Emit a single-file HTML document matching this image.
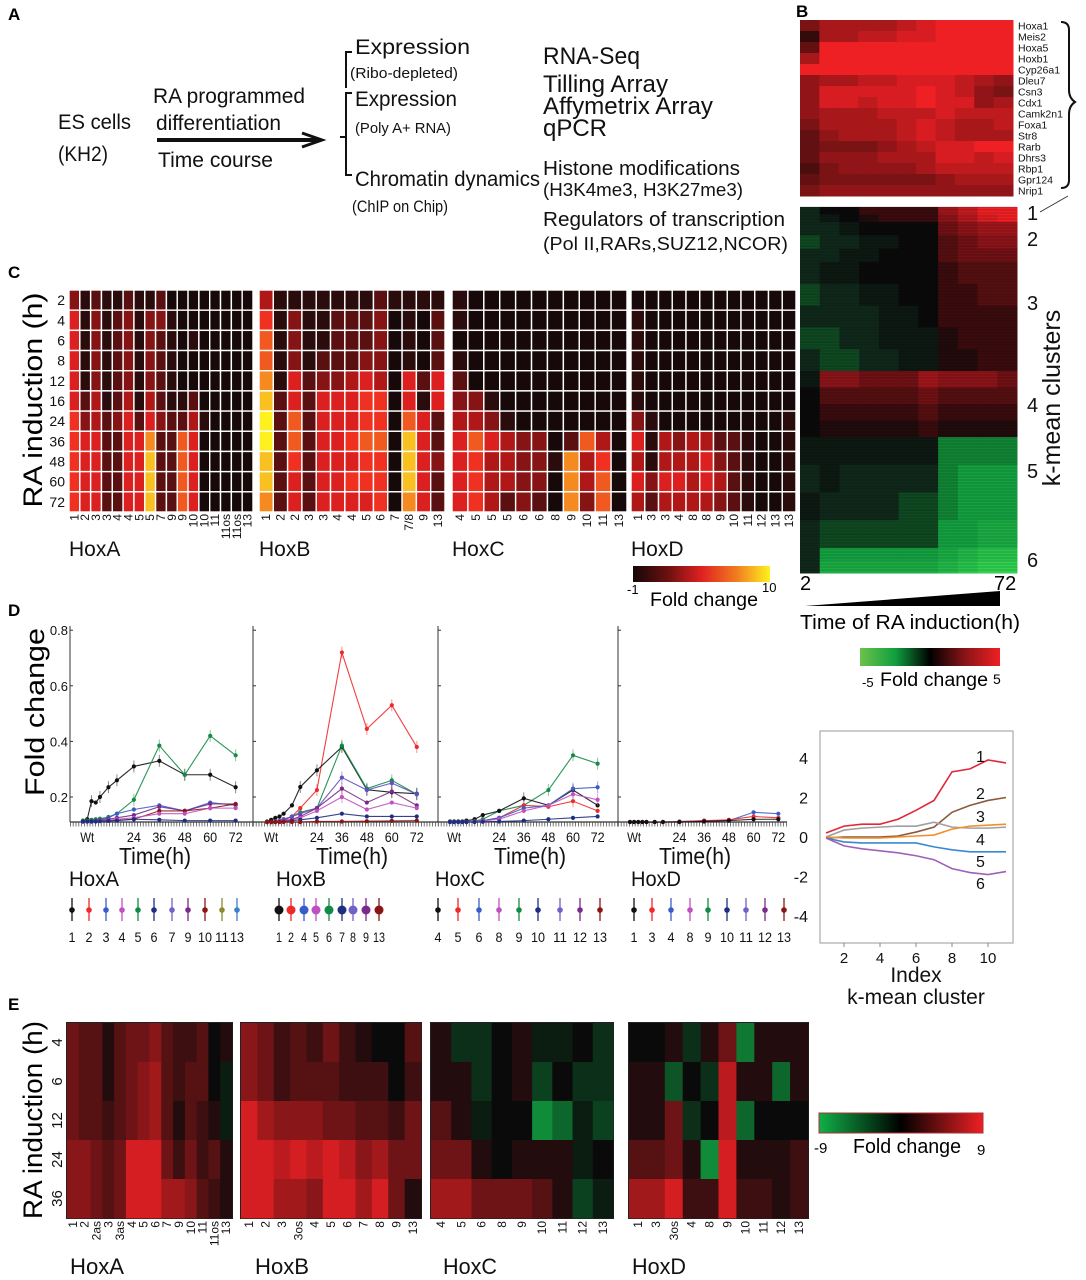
<!DOCTYPE html>
<html><head><meta charset="utf-8"><title>Hox RA induction figure</title>
<style>
html,body{margin:0;padding:0;background:#fff;}
svg{display:block;font-family:"Liberation Sans Narrow","Liberation Sans",sans-serif;}
.w{font-family:"Liberation Sans",sans-serif;}
</style></head>
<body>
<svg id="fig" width="1086" height="1280" viewBox="0 0 1086 1280" xmlns="http://www.w3.org/2000/svg">
<defs>
<linearGradient id="gFire" x1="0" x2="1" y1="0" y2="0">
<stop offset="0" stop-color="#140808"/><stop offset="0.25" stop-color="#6a1010"/><stop offset="0.5" stop-color="#e02020"/><stop offset="0.75" stop-color="#f07a20"/><stop offset="1" stop-color="#fff020"/></linearGradient>
<linearGradient id="gGR" x1="0" x2="1" y1="0" y2="0">
<stop offset="0" stop-color="#6cc24a"/><stop offset="0.25" stop-color="#10a040"/><stop offset="0.5" stop-color="#000"/><stop offset="0.75" stop-color="#8a1418"/><stop offset="1" stop-color="#ee2024"/></linearGradient>
<linearGradient id="gGR9" x1="0" x2="1" y1="0" y2="0">
<stop offset="0" stop-color="#10b048"/><stop offset="0.5" stop-color="#000"/><stop offset="1" stop-color="#ee2024"/></linearGradient>
</defs>
<rect x="0" y="0" width="1086" height="1280" fill="#fff"/>

<g class="w" font-weight="bold" font-size="17">
<text x="8" y="20">A</text>
<text x="796" y="17">B</text>
<text x="8" y="278">C</text>
<text x="8" y="616">D</text>
<text x="8" y="1010">E</text>
</g>

<!-- Panel A -->
<g fill="#111">
<text x="58" y="129" font-size="21" textLength="73" lengthAdjust="spacingAndGlyphs">ES cells</text>
<text x="58" y="161" font-size="21" textLength="50" lengthAdjust="spacingAndGlyphs">(KH2)</text>
<text x="153" y="103" font-size="21" textLength="152" lengthAdjust="spacingAndGlyphs">RA programmed</text>
<text x="156" y="130" font-size="21" textLength="125" lengthAdjust="spacingAndGlyphs">differentiation</text>
<text x="158" y="167" font-size="21" textLength="115" lengthAdjust="spacingAndGlyphs">Time course</text>
<line x1="157" y1="140" x2="318" y2="140" stroke="#111" stroke-width="4"/>
<polyline points="302,133 322,140 302,147" fill="none" stroke="#111" stroke-width="3"/>
<path d="M352 52 h-6 v36 M352 93 h-6 v82 h6 M346 137 h-6" fill="none" stroke="#111" stroke-width="2"/>
<text x="355" y="54" font-size="21" textLength="115" lengthAdjust="spacingAndGlyphs">Expression</text>
<text x="350" y="78" font-size="15" textLength="108" lengthAdjust="spacingAndGlyphs">(Ribo-depleted)</text>
<text x="355" y="106" font-size="21" textLength="102" lengthAdjust="spacingAndGlyphs">Expression</text>
<text x="355" y="133" font-size="15" textLength="96" lengthAdjust="spacingAndGlyphs">(Poly A+ RNA)</text>
<text x="355" y="186" font-size="21" textLength="185" lengthAdjust="spacingAndGlyphs">Chromatin dynamics</text>
<text x="352" y="212" font-size="17" textLength="96" lengthAdjust="spacingAndGlyphs">(ChIP on Chip)</text>
<text x="543" y="64" font-size="24" textLength="97" lengthAdjust="spacingAndGlyphs">RNA-Seq</text>
<text x="543" y="92" font-size="24" textLength="125" lengthAdjust="spacingAndGlyphs">Tilling Array</text>
<text x="543" y="114" font-size="24" textLength="170" lengthAdjust="spacingAndGlyphs">Affymetrix Array</text>
<text x="543" y="136" font-size="24" textLength="64" lengthAdjust="spacingAndGlyphs">qPCR</text>
<text x="543" y="175" font-size="20" textLength="197" lengthAdjust="spacingAndGlyphs">Histone modifications</text>
<text x="543" y="196" font-size="18" textLength="200" lengthAdjust="spacingAndGlyphs">(H3K4me3, H3K27me3)</text>
<text x="543" y="226" font-size="20" textLength="242" lengthAdjust="spacingAndGlyphs">Regulators of transcription</text>
<text x="543" y="250" font-size="18" textLength="245" lengthAdjust="spacingAndGlyphs">(Pol II,RARs,SUZ12,NCOR)</text>
</g>

<!-- Panel B static -->
<g>
<path d="M1061 22 q8 0 8 8 v60 q0 8 6 12 q-6 4 -6 12 v66 q0 8 -8 8" fill="none" stroke="#111" stroke-width="2"/>
<line x1="1040" y1="212" x2="1068" y2="196" stroke="#333" stroke-width="1"/>
<g font-size="20" class="w" fill="#111">
<text x="1027" y="220">1</text>
<text x="1027" y="246">2</text>
<text x="1027" y="310">3</text>
<text x="1027" y="412">4</text>
<text x="1027" y="478">5</text>
<text x="1027" y="567">6</text>
</g>
<text transform="translate(1060,398) rotate(-90)" text-anchor="middle" font-size="25" class="w" fill="#111">k-mean clusters</text>
<text x="800" y="590" font-size="20" class="w">2</text>
<text x="994" y="590" font-size="20" class="w">72</text>
<polygon points="805,606 1000,591 1000,606" fill="#000"/>
<text x="800" y="629" font-size="20" class="w" textLength="220" lengthAdjust="spacingAndGlyphs">Time of RA induction(h)</text>
<rect x="860" y="648" width="140" height="18" fill="url(#gGR)"/>
<text x="862" y="687" font-size="13" class="w">-5</text>
<text x="880" y="686" font-size="19" class="w" textLength="108" lengthAdjust="spacingAndGlyphs">Fold change</text>
<text x="993" y="684" font-size="14" class="w">5</text>
</g>
<g id="bTop"></g>
<g id="bGenes" font-size="10.5" class="w"></g>
<g id="bLow"></g>

<!-- Panel C static -->
<g>
<text transform="translate(42,400) rotate(-90)" text-anchor="middle" font-size="27" class="w" textLength="215" lengthAdjust="spacingAndGlyphs">RA induction (h)</text>
<rect x="633" y="566" width="137" height="16" fill="url(#gFire)"/>
<text x="627" y="594" font-size="13">-1</text>
<text x="762" y="592" font-size="13">10</text>
<text x="650" y="606" font-size="19" textLength="108" lengthAdjust="spacingAndGlyphs">Fold change</text>
</g>
<g id="cHeat"></g>

<!-- Panel D -->
<text transform="translate(44,712) rotate(-90)" text-anchor="middle" font-size="27" class="w" textLength="168" lengthAdjust="spacingAndGlyphs">Fold change</text>
<g id="dPlots"></g>
<g id="kmean"></g>

<!-- Panel E -->
<text transform="translate(42,1120) rotate(-90)" text-anchor="middle" font-size="27" class="w" textLength="198" lengthAdjust="spacingAndGlyphs">RA induction (h)</text>
<g id="eHeat"></g>
<g>
<rect x="819" y="1113" width="164" height="20" fill="url(#gGR9)" stroke="#a33" stroke-width="1"/>
<text x="814" y="1153" font-size="15">-9</text>
<text x="853" y="1153" font-size="20" textLength="108" lengthAdjust="spacingAndGlyphs">Fold change</text>
<text x="977" y="1155" font-size="15">9</text>
</g>
</svg>

<script>
// ---------------- DATA ----------------
const bGeneNames = ["Hoxa1","Meis2","Hoxa5","Hoxb1","Cyp26a1","Dleu7","Csn3","Cdx1","Camk2n1","Foxa1","Str8","Rarb","Dhrs3","Rbp1","Gpr124","Nrip1"];
const bGeneValues = [
[4,6,6,6,6,7,8,9,9,9,9],
[1,6,6,7,7,8,8,9,9,9,9],
[3,9,9,9,9,9,9,9,9,9,9],
[6,9,9,9,9,9,9,9,9,9,9],
[9,9,9,9,9,9,9,9,9,9,9],
[5,6,6,7,7,8,8,8,7,6,5],
[5,8,8,8,8,8,9,8,7,5,4],
[5,8,8,7,8,8,9,8,8,5,6],
[5,6,6,6,7,7,7,8,7,7,7],
[4,6,6,6,6,7,8,7,6,6,7],
[3,5,6,6,6,7,8,7,6,6,6],
[3,4,4,4,5,6,7,8,8,9,9],
[3,5,5,5,6,6,6,8,8,7,8],
[2,4,5,5,5,5,6,7,7,7,7],
[3,4,4,4,4,4,4,5,6,6,6],
[4,5,5,5,5,5,5,5,5,5,5]];
const kmGeneCounts = [150,400,1090,660,1110,250];
const kmProfiles = [
 [[-1,0,0,1,1,1,1,3,4,5,5],[-1,-0.5,0,0.5,1,1,1,2.5,3.5,4.5,5]],
 [[-1,-1,-0.5,0,0,0,0,2,2.5,3,3],[-1.5,-1,-1,-0.5,-0.5,0,0,1.5,2,2.5,2.5],[-1,-1,-0.5,-0.5,0,0,0,1.5,2,2,2]],
 [[-1,-0.5,-0.5,0,0,0,0,1,1.5,1.5,1.5],[-1.5,-1,-1,-0.5,-0.5,0,0,1,1,1.5,1.5],[-1,-1,-1,-1,-0.5,-0.5,0,1,1,1,1],[-1.5,-1.5,-1,-1,-0.5,-0.5,-0.5,0.5,1,1,1],[-1,-1.5,-1.5,-1,-1,-0.5,-0.5,0.5,0.5,1,1]],
 [[-0.5,2.5,2.5,2,2,2,3,2.5,2.5,2.5,2],[0,1.5,1.5,1.5,1.5,1.5,2,1.5,1.5,1.5,1.5],[0,1,1,1,1,1,1.5,1,1,1,1],[0,0.5,0.5,0.5,0.5,0.5,1,0.5,0.5,0.5,0.5]],
 [[-0.5,-0.5,-0.5,-0.5,-0.5,-0.5,-0.5,-2.5,-2.5,-2.5,-2.5],[-1,-0.5,-1,-1,-1,-1,-1,-2.5,-3,-3,-3],[-0.5,-1,-1,-1,-1,-1.5,-1.5,-2.5,-3,-3,-3],[-1,-1.5,-1.5,-1.5,-1.5,-1.5,-1.5,-3,-3,-3.5,-3.5]],
 [[-1,-3,-3,-3,-3,-3,-3,-3.5,-4,-4.5,-4.5],[-1,-3.5,-3.5,-3.5,-3.5,-3.5,-3.5,-4,-4.5,-5,-5]]];

const cRowLabels = ["2","4","6","8","12","16","24","36","48","60","72"];
const cHoxACols = ["1","2","3","3","4","4","5","5","7","9","9","10","10","11","11os","11os","13"];
const cHoxA = ["31211211200000000","51312313310000000","51312313210100000","51312313210000000","51312313210000000","52412414211200000","63423525322410000","65522558227500000","65522559227500000","65522559227500000","65522559227500000"];
const cHoxBCols = ["1","2","2","3","3","4","4","5","6","7","7/8","9","13"];
const cHoxB = ["4111111121111","6131122230102","7131122230102","7131222330102","8152334540525","9252555660515","a272555660752","a272556770952","9262555660953","9252556660952","8252555560852"];
const cHoxCCols = ["4","5","5","5","6","6","8","9","10","11","13"];
const cHoxC = ["10000000000","10000000000","00000000000","10000000000","20000000000","33100000000","44310000000","57543302740","56443318460","56443308470","56423208370"];
const cHoxDCols = ["1","3","3","4","8","8","9","10","11","12","13","13"];
const cHoxD = ["000000000000","100000000000","100000000000","100000000000","100000000000","100000000000","310000000001","514344221001","414445321001","535545421001","424444321001"];

const dTimes = [0,2,4,6,8,12,16,24,36,48,60,72];
const dTickLabels = ["Wt","24","36","48","60","72"];
const dYTicks = [0.2,0.4,0.6,0.8];
const dHoxA = {
 black:[0.115,0.12,0.185,0.18,0.2,0.235,0.26,0.31,0.33,0.28,0.28,0.235],
 green:[0.115,0.115,0.118,0.12,0.122,0.128,0.14,0.19,0.385,0.28,0.42,0.35],
 blue:[0.112,0.112,0.113,0.115,0.118,0.125,0.14,0.155,0.17,0.15,0.18,0.17],
 purple:[0.112,0.112,0.113,0.114,0.116,0.12,0.125,0.135,0.165,0.15,0.175,0.175],
 darkred:[0.112,0.112,0.112,0.113,0.114,0.115,0.116,0.12,0.15,0.15,0.16,0.175],
 magenta:[0.112,0.112,0.112,0.113,0.114,0.116,0.12,0.125,0.14,0.14,0.16,0.16],
 navy:[0.112,0.112,0.112,0.112,0.113,0.114,0.115,0.12,0.118,0.115,0.115,0.115]};
const dHoxB = {
 red:[0.11,0.11,0.11,0.112,0.115,0.13,0.16,0.225,0.72,0.445,0.53,0.38],
 black:[0.112,0.118,0.125,0.13,0.14,0.17,0.236,0.296,0.38,0.226,0.217,0.212],
 green:[0.11,0.11,0.112,0.115,0.12,0.13,0.145,0.16,0.385,0.23,0.26,0.21],
 slate:[0.11,0.11,0.112,0.115,0.12,0.13,0.14,0.16,0.27,0.225,0.25,0.21],
 purple:[0.11,0.11,0.11,0.112,0.115,0.12,0.13,0.16,0.23,0.18,0.22,0.17],
 magenta:[0.11,0.11,0.11,0.112,0.114,0.118,0.125,0.15,0.2,0.155,0.18,0.16],
 navy:[0.11,0.11,0.11,0.11,0.112,0.115,0.118,0.125,0.14,0.13,0.13,0.13],
 darkred:[0.11,0.11,0.11,0.11,0.11,0.11,0.11,0.112,0.112,0.113,0.114,0.115]};
const dHoxC = {
 green:[0.112,0.112,0.112,0.112,0.112,0.114,0.12,0.15,0.17,0.225,0.35,0.32],
 black:[0.112,0.112,0.112,0.112,0.115,0.12,0.135,0.15,0.195,0.17,0.225,0.17],
 red:[0.11,0.11,0.11,0.11,0.11,0.112,0.115,0.125,0.17,0.165,0.185,0.15],
 blue:[0.11,0.11,0.11,0.11,0.11,0.112,0.115,0.125,0.16,0.17,0.23,0.235],
 magenta:[0.11,0.11,0.11,0.11,0.11,0.112,0.114,0.12,0.15,0.17,0.21,0.19],
 navy:[0.11,0.11,0.11,0.11,0.11,0.11,0.111,0.112,0.115,0.12,0.125,0.13]};
const dHoxD = {
 blue:[0.11,0.11,0.11,0.11,0.11,0.11,0.11,0.112,0.115,0.115,0.145,0.14],
 red:[0.11,0.11,0.11,0.11,0.11,0.11,0.11,0.111,0.115,0.118,0.13,0.125],
 black:[0.11,0.11,0.11,0.11,0.11,0.11,0.11,0.11,0.112,0.115,0.12,0.12]};
const dLegendA = ["1","2","3","4","5","6","7","9","10","11","13"];
const dLegendB = ["1","2","4","5","6","7","8","9","13"];
const dLegendC = ["4","5","6","8","9","10","11","12","13"];
const dLegendD = ["1","3","4","8","9","10","11","12","13"];

const kmIndex = [1,2,3,4,5,6,7,8,9,10,11];
const kmSeries1 = [0.2,0.55,0.65,0.65,0.9,1.35,1.85,3.3,3.45,3.9,3.75];
const kmSeries2 = [-0.05,0,0,0,0.05,0.25,0.5,1.25,1.6,1.85,2.0];
const kmSeries3 = [0,0.35,0.45,0.5,0.55,0.55,0.75,0.5,0.45,0.45,0.5];
const kmSeries4 = [0,-0.05,-0.05,-0.05,0,0.05,0.1,0.4,0.55,0.6,0.65];
const kmSeries5 = [-0.05,-0.25,-0.3,-0.3,-0.3,-0.3,-0.5,-0.65,-0.75,-0.75,-0.75];
const kmSeries6 = [-0.05,-0.45,-0.6,-0.7,-0.8,-0.95,-1.15,-1.6,-1.8,-1.9,-1.75];
const kmXTicks = [2,4,6,8,10];
const kmYTicks = [4,2,0,-2,-4];

const eRowLabels = ["4","6","12","24","36"];
const eHoxACols = ["1","2","2as","3","3as","4","5","6","7","9","10","11","11os","13"];
const eHoxA = [[4,3,3,1,3,4,4,5,3,2,2,3,0,1],[4,3,3,1,3,4,5,6,3,2,3,3,0,-1],[4,3,3,2,3,4,5,6,3,1,3,2,1,-1],[5,5,4,3,4,8,8,8,4,2,4,2,3,1],[5,5,4,3,4,8,8,8,6,6,5,3,2,1]];
const eHoxBCols = ["1","2","3","3os","4","5","6","7","8","9","13"];
const eHoxB = [[5,4,2,3,2,4,2,1,0,0,3],[5,4,2,3,3,3,2,2,2,0,2],[8,6,5,5,5,4,4,3,3,2,4],[8,8,7,8,7,8,7,5,6,4,4],[8,8,6,6,5,8,8,6,8,4,1]];
const eHoxCCols = ["4","5","6","8","9","10","11","12","13"];
const eHoxC = [[1,-2,-2,0,1,-1,-1,0,-2],[1,1,-2,0,1,-3,0,-2,-2],[3,1,-1,0,0,-7,-5,-1,-3],[4,4,1,0,1,1,1,-1,0],[6,6,4,4,4,3,1,-3,-1]];
const eHoxDCols = ["1","3","3os","4","8","9","10","11","12","13"];
const eHoxD = [[0,0,1,-2,1,4,-6,1,1,1],[1,1,-4,0,-2,7,1,1,-5,1],[1,1,4,-2,0,7,-5,0,0,0],[3,3,4,1,-7,8,1,1,1,2],[6,6,8,2,2,8,2,2,1,2]];

// ---------------- RENDER ----------------
const NS='http://www.w3.org/2000/svg';
function el(tag, attrs, parent){const e=document.createElementNS(NS,tag);for(const k in attrs)e.setAttribute(k,attrs[k]);parent.appendChild(e);return e;}
function hex(c){return [parseInt(c.slice(1,3),16),parseInt(c.slice(3,5),16),parseInt(c.slice(5,7),16)];}
function interp(stops,v){
  if(v<=stops[0][0])return stops[0][1];
  for(let i=1;i<stops.length;i++){if(v<=stops[i][0]){const a=stops[i-1],b=stops[i];const t=(v-a[0])/(b[0]-a[0]);const A=hex(a[1]),B=hex(b[1]);return 'rgb('+A.map((x,j)=>Math.round(x+(B[j]-x)*t)).join(',')+')';}}
  return stops[stops.length-1][1];}
const fireStops=[[0,'#170909'],[1,'#2a0c0c'],[2,'#5a1010'],[3,'#861414'],[4,'#b01818'],[5,'#dc2020'],[6,'#f03020'],[7,'#f05a20'],[8,'#f58a20'],[9,'#f8c020'],[10,'#fff020']];
const redStops=[[0,'#1c0808'],[9,'#ee2024']];
const grStops=[[-5,'#30d050'],[-3,'#14a040'],[-2,'#0e6a2a'],[-1,'#10281a'],[0,'#0a0a0a'],[1,'#3a0c0e'],[2.5,'#8a1418'],[5,'#ee2024']];
const gr9Stops=[[-9,'#10b048'],[0,'#0a0a0a'],[9,'#ee2024']];
function lvl(ch){return ch==='a'?10:parseInt(ch,10);}

const bTop=document.getElementById('bTop');
(function(){const x0=800,x1=1013,y0=20,y1=196;const cw=(x1-x0)/11,rh=(y1-y0)/bGeneValues.length;
bGeneValues.forEach((row,r)=>{row.forEach((v,c)=>{const e=el('rect',{x:x0+c*cw,y:y0+r*rh,width:cw+0.5,height:rh+0.5,fill:interp(redStops,v)},bTop);

});
const t=el('text',{x:1018,y:y0+r*rh+rh*0.5+4,fill:'#111'},document.getElementById('bGenes'));t.textContent=bGeneNames[r];

});})();

(function(){const g=document.getElementById('bLow');const x0=800,x1=1017,y0=207,y1=573;const cw=(x1-x0)/11;
const total=kmGeneCounts.reduce((a,b)=>a+b,0);let y=y0;
kmGeneCounts.forEach((n,k)=>{const h=(y1-y0)*n/total;const profs=kmProfiles[k];const sh=h/profs.length;
profs.forEach((p,pi)=>{p.forEach((v,c)=>{const e=el('rect',{x:x0+c*cw,y:y+pi*sh,width:cw+0.5,height:sh+0.5,fill:interp(grStops,v)},g);

});});
y+=h;});
for(let yy=y0;yy<y1;yy+=3){const e=el('line',{x1:x0,x2:x1,y1:yy,y2:yy,stroke:'#000','stroke-opacity':0.18,'stroke-width':1},g);

}
})();

function drawC(rows,cols,x0,x1,name){const g=document.getElementById('cHeat');const y0=290,y1=512;
const cw=(x1-x0)/cols.length,rh=(y1-y0)/rows.length;
rows.forEach((row,r)=>{for(let c=0;c<cols.length;c++){const e=el('rect',{x:x0+c*cw,y:y0+r*rh,width:cw,height:rh,fill:interp(fireStops,lvl(row[c])),stroke:'#fff','stroke-width':1.4},g);

}});
cols.forEach((lab,c)=>{const t=el('text',{transform:'translate('+(x0+c*cw+cw/2+4)+',514) rotate(-90)','text-anchor':'end','font-size':12,fill:'#111'},g);t.textContent=lab;

});
const t=el('text',{x:x0,y:556,'font-size':21,fill:'#111'},g);t.textContent=name;

}
drawC(cHoxA,cHoxACols,69,253,'HoxA');
drawC(cHoxB,cHoxBCols,259,445,'HoxB');
drawC(cHoxC,cHoxCCols,452,627,'HoxC');
drawC(cHoxD,cHoxDCols,631,796,'HoxD');
(function(){const g=document.getElementById('cHeat');const rh=(512-290)/cRowLabels.length;
cRowLabels.forEach((l,i)=>{const t=el('text',{x:65,y:290+rh*i+rh/2+5,'text-anchor':'end','font-size':14,fill:'#111'},g);t.textContent=l;

});})();

const colorMap={black:'#111111',green:'#138a45',blue:'#3a5cc8',purple:'#7a2a8a',darkred:'#8a1515',magenta:'#c050c0',navy:'#1f2f80',red:'#ee2a2a',slate:'#6050c0'};
function yD(v){return 797-(v-0.2)*278;}
function drawD(series,axisLeft,t0,pxh,axisRight,name,legend,legX,timeX,withTicks){
 const g=document.getElementById('dPlots');const gp=el('g',{},g);
 
 
 const xD=t=>t0+t*pxh;
 const ax=el('line',{x1:axisLeft,x2:axisLeft,y1:626,y2:822,stroke:'#333','stroke-width':1},gp);
 
 
 const bx=el('line',{x1:axisLeft,x2:axisRight,y1:822,y2:822,stroke:'#333','stroke-width':1.2},gp);
 
 
 const mt=el('line',{x1:axisLeft,x2:axisRight,y1:824.5,y2:824.5,stroke:'#555','stroke-width':4,'stroke-dasharray':'0.8,2'},gp);
 
 
 dYTicks.forEach(v=>{const tk=el('line',{x1:axisLeft,x2:axisLeft+3,y1:yD(v),y2:yD(v),stroke:'#333'},gp);
  
  
  if(withTicks){const t=el('text',{x:axisLeft-2,y:yD(v)+5,'text-anchor':'end','font-size':13,fill:'#111'},gp);t.textContent=v.toFixed(1);
  
  }});
 const tickT=[2,24,36,48,60,72];
 dTickLabels.forEach((l,i)=>{const t=el('text',{x:xD(tickT[i]),y:842,'text-anchor':'middle','font-size':14,textLength:(l.length*7),lengthAdjust:'spacingAndGlyphs',fill:'#111'},gp);t.textContent=l;
  
  });
 const tt=el('text',{x:timeX,y:864,'text-anchor':'middle','font-size':23,textLength:72,lengthAdjust:'spacingAndGlyphs',fill:'#111'},gp);tt.textContent='Time(h)';
 
 
 Object.keys(series).forEach(k=>{const vals=series[k];const col=colorMap[k];
  const pts=vals.map((v,i)=>xD(dTimes[i])+','+yD(v)).join(' ');
  const pl=el('polyline',{points:pts,fill:'none',stroke:col,'stroke-width':1.1,'stroke-opacity':0.9},gp);
  
  
  vals.forEach((v,i)=>{const c=el('circle',{cx:xD(dTimes[i]),cy:yD(v),r:2.1,fill:col},gp);
   
   
   if(v>0.18){const eb=el('line',{x1:xD(dTimes[i]),x2:xD(dTimes[i]),y1:yD(v)-6,y2:yD(v)+6,stroke:col,'stroke-opacity':0.5},gp);
   
   }});});
 const ft=el('text',{x:legX[0]-3,y:886,'font-size':21,textLength:50,lengthAdjust:'spacingAndGlyphs',fill:'#111'},gp);ft.textContent=name;
 
 
 const legCols=['#111111','#ee2a2a','#3a5cc8','#c050c0','#138a45','#1f2f80','#7060c8','#7a2a8a','#8a1515','#8a8a30','#3a80c8'];
 legend.forEach((l,i)=>{const x=legX[i];const col=legCols[i%legCols.length];
  const ln=el('line',{x1:x,x2:x,y1:898,y2:921,stroke:col,'stroke-width':1.3},gp);
  
  
  const m=el('circle',{cx:x,cy:910,r:name==='HoxB'?4.5:2.8,fill:col},gp);
  
  
  const t=el('text',{x:x,y:942,'text-anchor':'middle','font-size':14,textLength:(l.length*(name==='HoxB'?6:7)),lengthAdjust:'spacingAndGlyphs',fill:'#111'},gp);t.textContent=l;
  
  });
}
drawD(dHoxA,70,83,2.12,253,'HoxA',dLegendA,[72,89,106,122,138,154,172,188,205,222,237],155,true);
drawD(dHoxB,253,267,2.08,438,'HoxB',dLegendB,[279,291,304,316,329,342,353,366,379],352,false);
drawD(dHoxC,438,450,2.05,618,'HoxC',dLegendC,[438,458,479,499,519,538,560,580,600],530,false);
drawD(dHoxD,618,630,2.06,787,'HoxD',dLegendD,[634,652,671,690,708,727,746,765,784],695,false);

(function(){const g=document.getElementById('kmean');
const xK=i=>826+(i-1)*18, yK=v=>837-v*19.75;
const box=el('rect',{x:820,y:731,width:193,height:212,fill:'none',stroke:'#aaa','stroke-width':1.2},g);


kmYTicks.forEach(v=>{const t=el('text',{x:808,y:yK(v)+6,'text-anchor':'end','font-size':16,class:'w',fill:'#111'},g);t.textContent=String(v);

});
kmXTicks.forEach(v=>{const tk=el('line',{x1:xK(v),x2:xK(v),y1:943,y2:947,stroke:'#888'},g);


const t=el('text',{x:xK(v),y:963,'text-anchor':'middle','font-size':15,class:'w',fill:'#111'},g);t.textContent=String(v);

});
const ser=[kmSeries1,kmSeries2,kmSeries3,kmSeries4,kmSeries5,kmSeries6];
const cols=['#e0283a','#8b5a3c','#a0a0a0','#f0902a','#3a88d0','#a060b8'];
ser.forEach((s,k)=>{const pl=el('polyline',{points:s.map((v,i)=>xK(kmIndex[i])+','+yK(v)).join(' '),fill:'none',stroke:cols[k],'stroke-width':1.6},g);

});
const labY=[762,799,822,845,867,889];
labY.forEach((y,k)=>{const t=el('text',{x:976,y:y,'font-size':16,class:'w',fill:'#111'},g);t.textContent=String(k+1);

});
const t1=el('text',{x:916,y:982,'text-anchor':'middle','font-size':21,class:'w',fill:'#111'},g);t1.textContent='Index';


const t2=el('text',{x:916,y:1004,'text-anchor':'middle','font-size':21,class:'w',fill:'#111'},g);t2.textContent='k-mean cluster';

})();

function drawE(rows,cols,x0,x1,name,labX){const g=document.getElementById('eHeat');const y0=1023,y1=1218;
const cw=(x1-x0)/cols.length,rh=(y1-y0)/rows.length;
const fr=el('rect',{x:x0-1,y:y0-1,width:x1-x0+2,height:y1-y0+2,fill:'#222'},g);


rows.forEach((row,r)=>row.forEach((v,c)=>{const e=el('rect',{x:x0+c*cw,y:y0+r*rh,width:cw+0.4,height:rh+0.4,fill:interp(gr9Stops,v)},g);

}));
cols.forEach((lab,c)=>{const t=el('text',{transform:'translate('+(x0+c*cw+cw/2+4)+',1221) rotate(-90)','text-anchor':'end','font-size':12,fill:'#111'},g);t.textContent=lab;

});
const t=el('text',{x:labX,y:1274,'font-size':22,textLength:54,lengthAdjust:'spacingAndGlyphs',fill:'#111'},g);t.textContent=name;

}
drawE(eHoxA,eHoxACols,67,232,'HoxA',70);
drawE(eHoxB,eHoxBCols,241,421,'HoxB',255);
drawE(eHoxC,eHoxCCols,431,613,'HoxC',443);
drawE(eHoxD,eHoxDCols,629,808,'HoxD',632);
(function(){const g=document.getElementById('eHeat');const rh=(1218-1023)/eRowLabels.length;
eRowLabels.forEach((l,i)=>{const t=el('text',{transform:'translate('+62+','+(1023+rh*i+rh/2)+') rotate(-90)','text-anchor':'middle','font-size':15,fill:'#111'},g);t.textContent=l;

});})();
</script>
</body></html>
